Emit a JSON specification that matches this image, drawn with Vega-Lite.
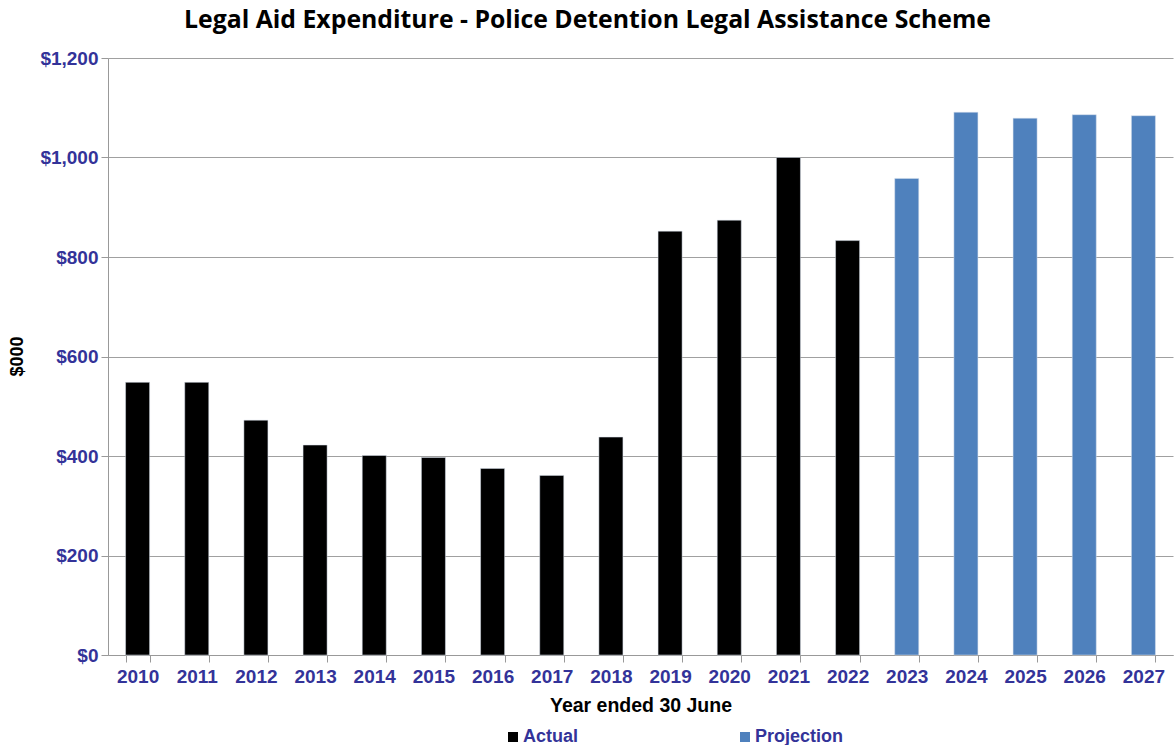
{
  "$schema": "https://vega.github.io/schema/vega-lite/v6.json",
  "width": 1065,
  "height": 597,
  "autosize": {"type": "none"},
  "padding": {"left": 108, "top": 58, "right": 2, "bottom": 90},
  "background": "white",
  "title": {
    "text": "Legal Aid Expenditure  - Police Detention Legal Assistance Scheme",
    "font": "Open Sans",
    "fontSize": 24.8,
    "fontWeight": "bold",
    "color": "#000000",
    "anchor": "middle",
    "dx": -53,
    "offset": 16
  },
  "data": {
    "values": [
      {"year": "2010", "value": 548, "type": "Actual"},
      {"year": "2011", "value": 548, "type": "Actual"},
      {"year": "2012", "value": 472, "type": "Actual"},
      {"year": "2013", "value": 422, "type": "Actual"},
      {"year": "2014", "value": 401, "type": "Actual"},
      {"year": "2015", "value": 397, "type": "Actual"},
      {"year": "2016", "value": 375, "type": "Actual"},
      {"year": "2017", "value": 361, "type": "Actual"},
      {"year": "2018", "value": 438, "type": "Actual"},
      {"year": "2019", "value": 852, "type": "Actual"},
      {"year": "2020", "value": 874, "type": "Actual"},
      {"year": "2021", "value": 1000, "type": "Actual"},
      {"year": "2022", "value": 833, "type": "Actual"},
      {"year": "2023", "value": 958, "type": "Projection"},
      {"year": "2024", "value": 1091, "type": "Projection"},
      {"year": "2025", "value": 1079, "type": "Projection"},
      {"year": "2026", "value": 1086, "type": "Projection"},
      {"year": "2027", "value": 1084, "type": "Projection"}
    ]
  },
  "mark": {"type": "bar", "stroke": "#d8e0ec", "strokeWidth": 0.5},
  "encoding": {
    "x": {
      "field": "year",
      "type": "ordinal",
      "scale": {"paddingInner": 0.594, "paddingOuter": 0.297},
      "axis": {
        "title": "Year ended 30 June",
        "titleFont": "Liberation Sans",
        "titleFontSize": 19.5,
        "titleFontWeight": "bold",
        "titleColor": "#000000",
        "titleY": 41,
        "titleBaseline": "top",
        "labelAngle": 0,
        "labelFont": "Liberation Sans",
        "labelFontSize": 19,
        "labelFontWeight": "bold",
        "labelColor": "#333399",
        "labelPadding": 5,
        "tickBand": "extent",
        "tickSize": 7,
        "tickColor": "#999999",
        "domainColor": "#999999",
        "grid": false
      }
    },
    "y": {
      "field": "value",
      "type": "quantitative",
      "scale": {"domain": [0, 1200], "nice": false},
      "axis": {
        "title": "$000",
        "titleFont": "Liberation Sans",
        "titleFontSize": 18,
        "titleFontWeight": "bold",
        "titleColor": "#000000",
        "titleX": -82,
        "titleY": 298,
        "titleAngle": -90,
        "titleAlign": "center",
        "titleBaseline": "bottom",
        "values": [0, 200, 400, 600, 800, 1000, 1200],
        "labelExpr": "'$' + format(datum.value, ',')",
        "labelFont": "Liberation Sans",
        "labelFontSize": 19,
        "labelFontWeight": "bold",
        "labelColor": "#333399",
        "labelPadding": 3,
        "tickSize": 7,
        "tickColor": "#999999",
        "domainColor": "#999999",
        "gridColor": "#a0a0a0",
        "gridWidth": 1
      }
    },
    "color": {
      "field": "type",
      "type": "nominal",
      "scale": {"domain": ["Actual", "Projection"], "range": ["#000000", "#4F81BD"]},
      "legend": {
        "title": null,
        "orient": "none",
        "direction": "horizontal",
        "legendX": 396,
        "legendY": 670,
        "symbolType": "square",
        "symbolSize": 100,
        "symbolStrokeWidth": 0,
        "labelFont": "Liberation Sans",
        "labelFontSize": 18,
        "labelFontWeight": "bold",
        "labelColor": "#333399",
        "labelOffset": 1,
        "columnPadding": 157
      }
    }
  },
  "config": {
    "view": {"stroke": null}
  }
}
